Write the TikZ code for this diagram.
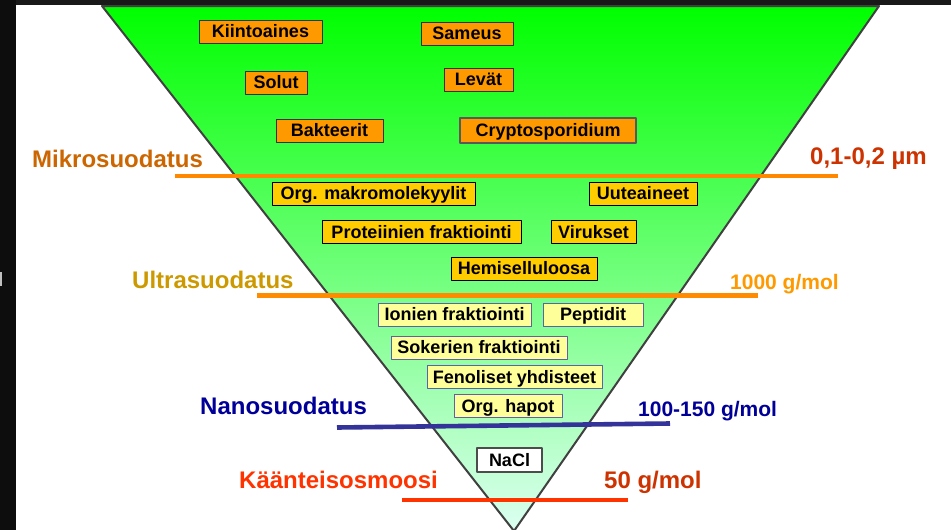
\documentclass[tikz,border=0pt]{standalone}
\usepackage{fontspec}
\setmainfont{Liberation Sans}
\definecolor{kaantop}{RGB}{0,255,0}
\definecolor{kaanbot}{RGB}{220,255,242}
\definecolor{oranssi}{RGB}{255,153,0}
\definecolor{keltainen}{RGB}{255,204,0}
\definecolor{vaalea}{RGB}{255,255,153}
\definecolor{reuna}{RGB}{96,96,168}
\definecolor{mikrov}{RGB}{204,102,0}
\definecolor{ultrav}{RGB}{204,153,0}
\definecolor{nanov}{RGB}{0,0,153}
\definecolor{rov}{RGB}{255,51,0}
\definecolor{ruskea}{RGB}{204,51,0}
\definecolor{mikroviiva}{RGB}{255,136,0}
\definecolor{ultraviiva}{RGB}{255,140,0}
\definecolor{nanoviiva}{RGB}{51,51,153}
\tikzset{
	laatikko/.style={font=\bfseries\fontsize{18}{18}\selectfont, text height=15pt, text depth=3pt, inner xsep=3pt, inner ysep=2.5pt, minimum height=23pt},
	oranssibox/.style={laatikko, fill=oranssi, draw=black!80, line width=0.9pt},
	keltabox/.style={laatikko, fill=keltainen, draw=black, line width=0.9pt},
	vaaleabox/.style={laatikko, fill=vaalea, draw=reuna, line width=0.9pt, minimum height=22pt},
	suuri/.style={font=\bfseries\fontsize{24}{24}\selectfont, anchor=base west, inner sep=0pt},
	pieni/.style={font=\bfseries\fontsize{21}{21}\selectfont, anchor=base west, inner sep=0pt}
}
\begin{document}
\begin{tikzpicture}[x=1pt, y=-1pt, line join=round]
	\useasboundingbox (0,0) rectangle (951,530);
	\path
	(102,6) coordinate (A)
	(879,6) coordinate (B)
	(514,531) coordinate (C)
	(175,176) coordinate (m1) (838,176) coordinate (m2)
	(257,295.5) coordinate (u1) (758,295.5) coordinate (u2)
	(337,427.5) coordinate (n1) (670,423.5) coordinate (n2)
	(402,500) coordinate (k1) (628,500) coordinate (k2)
	;
	% suppilo
	\draw[top color=kaantop, bottom color=kaanbot, draw=black!75, line width=2pt] (A)--(B)--(C)--cycle;
	% rajat
	\draw[line width=4.8pt, mikroviiva] (m1)--(m2);
	\draw[line width=4.6pt, ultraviiva] (u1)--(u2);
	\draw[line width=4.6pt, nanoviiva] (n1)--(n2);
	\draw[line width=4.8pt, rov] (k1)--(k2);
	% nimet ja rajat
	\node[suuri, mikrov] (mikro) at (32,167) {Mikrosuodatus};
	\node[suuri, ruskea] (mikroraja) at (810,164) {0,1-0,2 µm};
	\node[suuri, ultrav] (ultra) at (132,288) {Ultrasuodatus};
	\node[pieni, oranssi] (ultraraja) at (730,289) {1000 g/mol};
	\node[suuri, nanov] (nano) at (200,414) {Nanosuodatus};
	\node[pieni, nanov] (nanoraja) at (638,416) {100-150 g/mol};
	\node[suuri, rov] (ro) at (239,488) {Käänteisosmoosi};
	\node[suuri, ruskea] (roraja) at (604,488) {50 g/mol};
	% aineet
	\foreach \n/\x/\y/\w/\t in {kiinto/260.5/31.5/123/Kiintoaines, sameus/467/33.5/92/Sameus, solut/276/82.5/62/Solut, levat/478.5/79.5/69/Levät, bakt/329.5/130.5/107/Bakteerit}
	\node[oranssibox, minimum width=\w pt] (\n) at (\x,\y) {\t};
	\node[oranssibox, draw=black!65, line width=2pt, minimum width=176pt, minimum height=25pt] (crypto) at (548,130.5) {Cryptosporidium};
	\foreach \n/\x/\y/\w/\t in {orgmakro/373.5/193.5/203/Org. makromolekyylit, uute/643/193.5/108/Uuteaineet, prot/421.5/232/199/Proteiinien fraktiointi, virus/593.5/232/85/Virukset, hemi/524/268.5/146/Hemiselluloosa}
	\node[keltabox, minimum width=\w pt] (\n) at (\x,\y) {\t};
	\foreach \n/\x/\y/\w/\t in {ionit/454.5/314.5/153/Ionien fraktiointi, pept/593/314.5/100/Peptidit, sokeri/479/347.5/176/Sokerien fraktiointi, fenol/514.5/377/175/Fenoliset yhdisteet, hapot/508/406/108/Org. hapot}
	\node[vaaleabox, minimum width=\w pt] (\n) at (\x,\y) {\t};
	\node[laatikko, fill=white, draw=black!70, line width=1.5pt, minimum width=65pt, minimum height=24pt] (nacl) at (509.5,460) {NaCl};
	% kehys
	\fill[black!95] (0,0) rectangle (16,530);
	\fill[black!90] (16,0) rectangle (951,5);
	\fill[black!25] (0,272) rectangle (2,286);
\end{tikzpicture}
\end{document}
